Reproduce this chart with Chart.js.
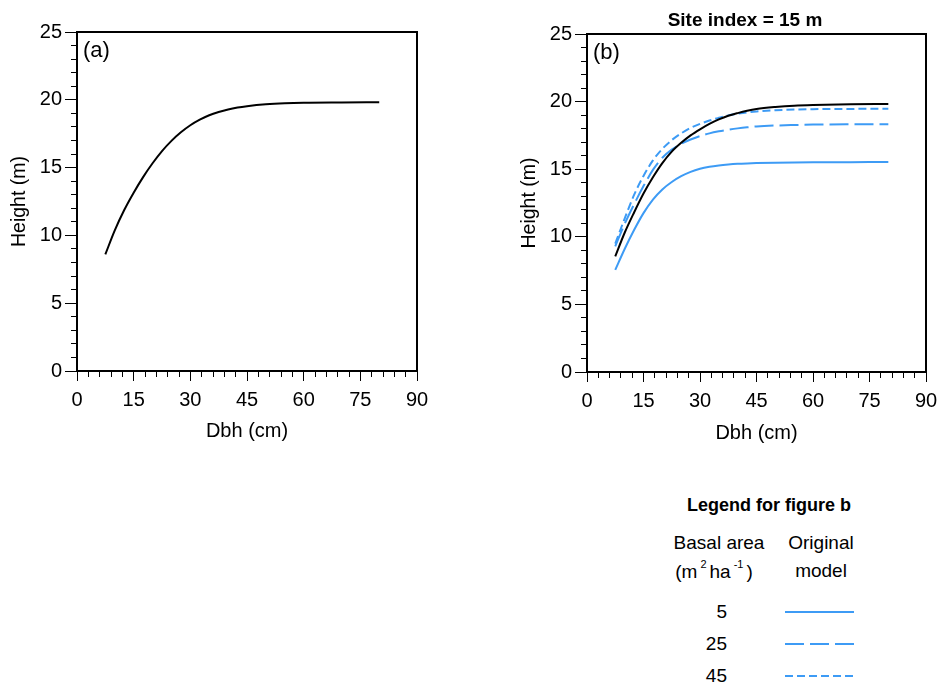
<!DOCTYPE html>
<html>
<head>
<meta charset="utf-8">
<script src="https://cdn.jsdelivr.net/npm/chart.js@4.4.1/dist/chart.umd.min.js"></script>
<style>
  body { margin: 0; background: #fff; font-family: "Liberation Sans", Arial, sans-serif; color: #000; }
  #page { position: relative; width: 947px; height: 698px; overflow: hidden; }
  canvas { position: absolute; }
  .txt { position: absolute; white-space: nowrap; line-height: 1; }
  .c { transform: translate(-50%, -50%); }
  .r { transform: translate(-100%, -50%); }
  sup { font-size: 11px; vertical-align: 10px; padding: 0 3px; }
  svg { position: absolute; }
</style>
</head>
<body>
<div id="page">
  <canvas id="chartA" style="left:0;top:0;"></canvas>
  <canvas id="chartB" style="left:510px;top:0;"></canvas>

  <div class="txt c" style="left:745px;top:19px;font-size:19px;font-weight:bold;">Site index = 15 m</div>

  <div class="txt c" style="left:769px;top:505px;font-size:18px;font-weight:bold;">Legend for figure b</div>
  <div class="txt c" style="left:719px;top:542px;font-size:19px;">Basal area</div>
  <div class="txt c" style="left:714px;top:570px;font-size:19px;">(m<sup>2</sup>ha<sup>-1</sup>)</div>
  <div class="txt c" style="left:821px;top:542px;font-size:19px;">Original</div>
  <div class="txt c" style="left:821px;top:570px;font-size:19px;">model</div>
  <div id="legendRows"></div>
  <svg id="legendLines" width="947" height="698" style="left:0;top:0;"></svg>
</div>

<script>
// diameter at breast height (cm)
const dbh = [7.5, 10, 12.5, 15, 17.5, 20, 22.5, 25, 27.5, 30, 32.5, 35, 37.5, 40, 42.5, 45, 50, 55, 60, 70, 80];

// original model (black), as drawn in panel a and panel b
const originalA = [8.6, 10.37, 11.87, 13.15, 14.3, 15.32, 16.22, 16.97, 17.6, 18.12, 18.53, 18.86, 19.1, 19.29, 19.43, 19.53, 19.67, 19.75, 19.79, 19.81, 19.82];
const originalB = [8.55, 10.3, 11.8, 13.2, 14.4, 15.45, 16.3, 16.95, 17.5, 17.95, 18.35, 18.68, 18.95, 19.15, 19.32, 19.45, 19.6, 19.7, 19.75, 19.8, 19.82];

// basal area versions for panel b
const basalAreas = [5, 25, 45];
const ba5 = [7.55, 9.1, 10.5, 11.75, 12.75, 13.5, 14.05, 14.48, 14.8, 15.03, 15.18, 15.28, 15.35, 15.4, 15.43, 15.45, 15.48, 15.5, 15.51, 15.52, 15.53];
const ba25 = [9.3, 10.95, 12.4, 13.75, 14.95, 15.85, 16.45, 16.88, 17.2, 17.45, 17.65, 17.8, 17.92, 18.02, 18.1, 18.16, 18.23, 18.27, 18.3, 18.32, 18.33];
const ba45 = [9.5, 11.35, 13.1, 14.5, 15.65, 16.5, 17.15, 17.65, 18.05, 18.35, 18.6, 18.8, 18.98, 19.1, 19.2, 19.27, 19.36, 19.41, 19.44, 19.46, 19.47];

const blue = '#3d9bf5';
const dashes = [[], [19, 6], [8, 4]];
const font = '"Liberation Sans", Arial, sans-serif';

function pts(ys) {
  return dbh.map((x, i) => ({ x: x, y: ys[i] }));
}

function lineSet(ys, color, dash) {
  return {
    data: pts(ys),
    borderColor: color,
    borderWidth: 2,
    borderDash: dash,
    pointRadius: 0,
    cubicInterpolationMode: 'monotone',
    fill: false
  };
}

// frame around plot area + panel letter
const framePlugin = {
  id: 'frame',
  afterDraw(chart, args, opts) {
    const a = chart.chartArea, ctx = chart.ctx;
    ctx.save();
    ctx.strokeStyle = '#000';
    ctx.lineWidth = 2;
    ctx.strokeRect(a.left, a.top, a.right - a.left, a.bottom - a.top);
    ctx.fillStyle = '#000';
    ctx.font = '22px ' + font;
    ctx.textBaseline = 'alphabetic';
    ctx.fillText(opts.label, a.left + 6, a.top + 25);
    ctx.restore();
  }
};

function makeChart(id, w, h, datasets, label, pad, titleBottom) {
  const cv = document.getElementById(id);
  cv.width = w; cv.height = h;
  cv.style.width = w + 'px'; cv.style.height = h + 'px';
  return new Chart(cv, {
    type: 'line',
    data: { datasets: datasets },
    options: {
      responsive: false,
      animation: false,
      layout: { padding: pad },
      plugins: {
        legend: { display: false },
        tooltip: { enabled: false },
        frame: { label: label }
      },
      scales: {
        x: {
          type: 'linear', min: 0, max: 90,
          afterFit: s => { s.height = 84; },
          border: { display: true, color: '#000', width: 2 },
          grid: {
            drawOnChartArea: false, tickLength: 10, tickColor: '#000', tickWidth: 1,
            tickBorderDash: c => (c.tick && c.tick.value % 15 === 0) ? [] : [5, 20]
          },
          ticks: {
            stepSize: 3, autoSkip: false, maxRotation: 0, padding: 7,
            color: '#000', font: { family: font, size: 20 },
            callback: v => v % 15 === 0 ? v : ''
          },
          title: { display: true, text: 'Dbh (cm)', color: '#000', font: { family: font, size: 20 }, padding: { bottom: titleBottom } }
        },
        y: {
          type: 'linear', min: 0, max: 25,
          afterFit: s => { s.width = 77; },
          border: { display: true, color: '#000', width: 2 },
          grid: {
            drawOnChartArea: false, tickLength: 12, tickColor: '#000', tickWidth: 1,
            tickBorderDash: c => (c.tick && c.tick.value % 5 === 0) ? [] : [0, 6, 5, 20]
          },
          ticks: {
            stepSize: 1, autoSkip: false, padding: 3,
            color: '#000', font: { family: font, size: 20 },
            callback: v => v % 5 === 0 ? v : ''
          },
          title: { display: true, text: 'Height (m)', color: '#000', font: { family: font, size: 19.5 }, padding: { top: 8 } }
        }
      }
    },
    plugins: [framePlugin]
  });
}

// panel a
makeChart('chartA', 440, 455, [lineSet(originalA, '#000', [])], '(a)',
  { left: 0, top: 32, right: 23, bottom: 0 }, 12);

// panel b: black first so it is drawn on top
const setsB = [lineSet(originalB, '#000', [])];
[ba5, ba25, ba45].forEach((ys, i) => setsB.push(lineSet(ys, blue, dashes[i])));
makeChart('chartB', 437, 456, setsB, '(b)',
  { left: 0, top: 34, right: 21, bottom: 0 }, 11);

// legend for panel b
const rowY = [611, 643, 675];
const rows = document.getElementById('legendRows');
const svg = document.getElementById('legendLines');
basalAreas.forEach((ba, i) => {
  const d = document.createElement('div');
  d.className = 'txt r';
  d.style.cssText = 'left:727px;top:' + rowY[i] + 'px;font-size:19px;';
  d.textContent = ba;
  rows.appendChild(d);
  const ln = document.createElementNS('http://www.w3.org/2000/svg', 'line');
  ln.setAttribute('x1', 785); ln.setAttribute('x2', 854);
  ln.setAttribute('y1', rowY[i] + 1); ln.setAttribute('y2', rowY[i] + 1);
  ln.setAttribute('stroke', blue); ln.setAttribute('stroke-width', 2);
  if (dashes[i].length) ln.setAttribute('stroke-dasharray', dashes[i].join(' '));
  svg.appendChild(ln);
});
</script>
</body>
</html>
